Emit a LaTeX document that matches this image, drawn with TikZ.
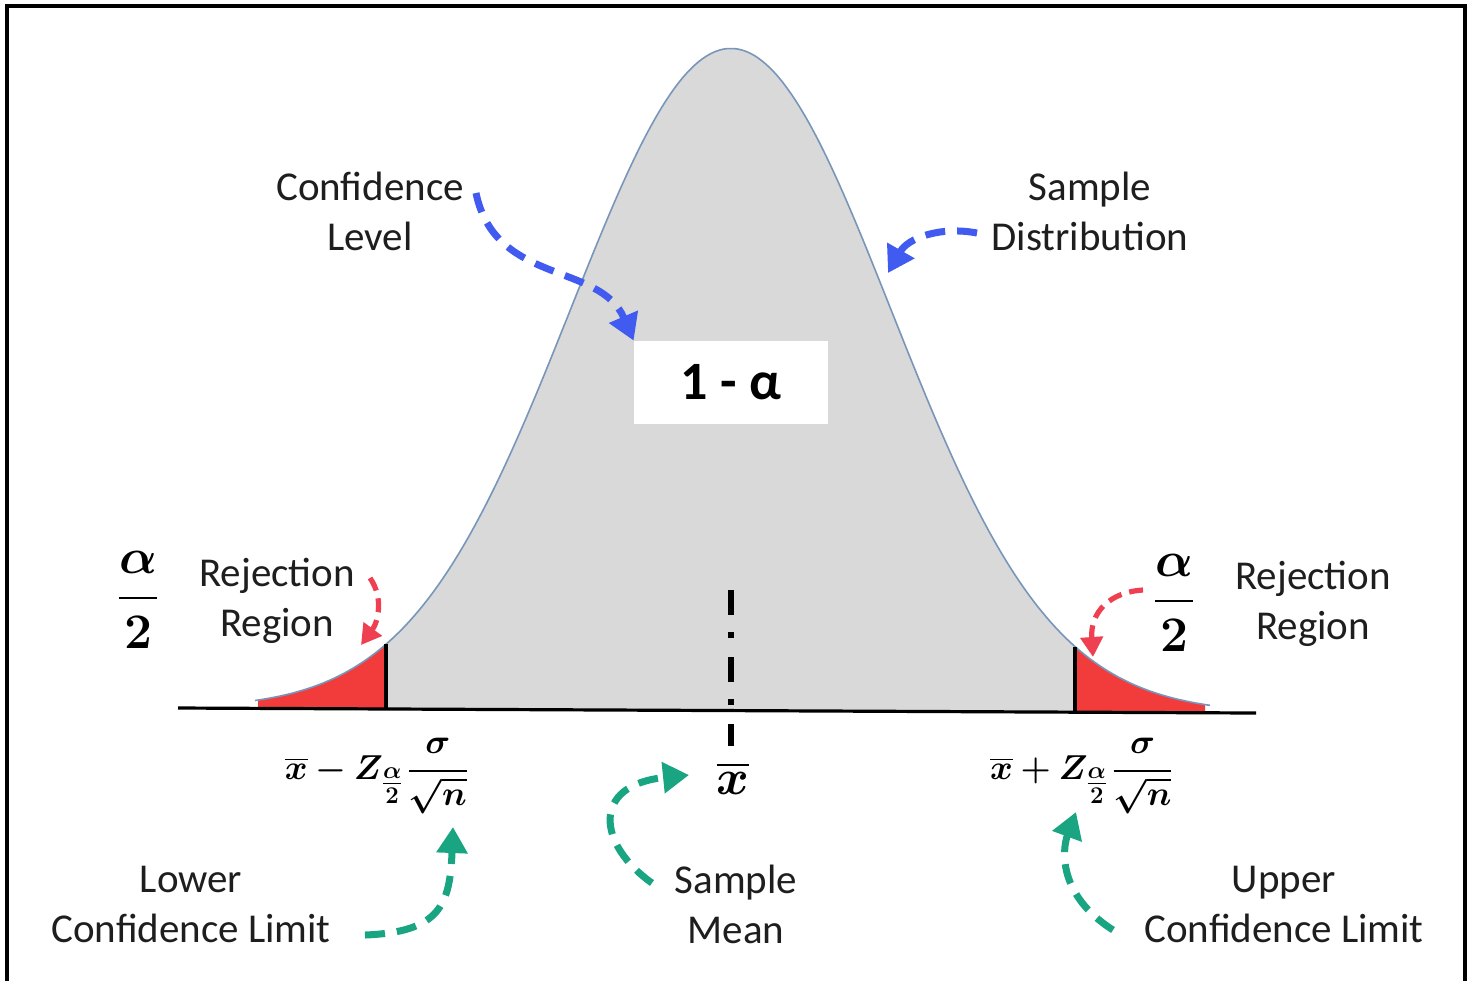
\documentclass[tikz,border=0pt]{standalone}
\usepackage{amsmath,bm}
\usepackage[no-math]{fontspec}
\setmainfont{Carlito}
\usetikzlibrary{arrows.meta}
\definecolor{bggray}{RGB}{217,217,217}
\definecolor{curveblue}{RGB}{120,150,185}
\definecolor{tailred}{RGB}{242,60,60}
\definecolor{arrred}{RGB}{238,64,80}
\definecolor{arrblue}{RGB}{65,90,240}
\definecolor{arrteal}{RGB}{25,165,130}
\definecolor{txt}{RGB}{30,30,30}
\newcommand{\halfa}{{\textstyle\frac{\bm{\alpha}}{\bm{2}}}}
\newcommand{\limf}[1]{\overline{\bm{x}}\mskip4mu{\bm{#1}}\mskip4mu\bm{Z}_{\halfa}\mskip1mu\bm{\dfrac{\sigma}{\sqrt{n}}}}
\begin{document}
\begin{tikzpicture}[x=0.5pt,y=-0.5pt,
  declare function={yb(\x)=708+5*(\x-178)/1078; g(\x)=yb(\x)-662*exp(-0.5*((\x-731)/160)^2);},
  lbl/.style={inner sep=0pt, align=center, text=txt, font=\fontsize{20.5}{25}\selectfont},
  mth/.style={inner sep=0pt, text=black, font=\fontsize{18.5}{22}\selectfont},
  bluearr/.style={draw=arrblue, line width=3.5pt, dash pattern=on 10pt off 6pt, -{Triangle[length=13pt,width=15pt]}},
  tealarr/.style={draw=arrteal, line width=3.5pt, dash pattern=on 10pt off 6pt, -{Triangle[length=13pt,width=15pt]}},
  redarr/.style={draw=arrred, line width=2.6pt, dash pattern=on 7pt off 4pt, -{Triangle[length=10pt,width=11pt]}}]
\useasboundingbox (0,0) rectangle (1470,981);
\fill[white] (0,0) rectangle (1470,981);
% frame
\draw[line width=2pt] (6.5,981) -- (6.5,5.5) -- (1465,5.5) -- (1465,981);
% gray central area
\fill[bggray] plot[domain=386:1075,samples=160] (\x,{g(\x)}) -- (1075,{yb(1075)}) -- (386,{yb(386)}) -- cycle;
% red tails
\fill[tailred] (258,{yb(258)}) -- plot[domain=258:386,samples=60] (\x,{g(\x)}) -- (386,{yb(386)}) -- cycle;
\fill[tailred] (1075,{yb(1075)}) -- plot[domain=1075:1205,samples=60] (\x,{g(\x)}) -- (1205,{yb(1205)}) -- cycle;
% curve outline
\draw[curveblue, line width=0.8pt] plot[domain=255:1210,samples=240] (\x,{g(\x)});
% critical value lines
\draw[line width=2pt] (386,{yb(386)}) -- (386,{g(386)});
\draw[line width=2pt] (1075,{yb(1075)}) -- (1075,{g(1075)});
% axis
\draw[line width=1.6pt] (178,708) -- (1256,713);
% mean line
\draw[line width=2.6pt, dash pattern=on 12.5pt off 8.5pt on 3pt off 9.5pt] (731,590) -- (731,746);
% box
\node[fill=white, minimum width=97pt, minimum height=41.5pt, inner sep=0pt, font=\fontsize{27}{30}\selectfont\bfseries] (conf) at (731,382.5) {1 - α};
% labels
\node[lbl] (cl) at (370,211) {Confidence\\Level};
\node[lbl] (sd) at (1090,211) {Sample\\Distribution};
\node[lbl] (rrl) at (277,601) {Rejection\\Region};
\node[lbl] (rrr) at (1313,604) {Rejection\\Region};
\node[lbl] (sm) at (736,904) {Sample\\Mean};
\node[lbl] (lcl) at (191,904) {Lower\\Confidence Limit};
\node[lbl] (ucl) at (1284,904) {Upper\\Confidence Limit};
% math
\node[mth, font=\fontsize{24}{28}\selectfont] (al) at (138,600) {$\bm{\dfrac{\alpha}{2}}$};
\node[mth, font=\fontsize{24}{28}\selectfont] (ar) at (1174,603) {$\bm{\dfrac{\alpha}{2}}$};
\node[mth] (lo) at (377,776) {$\limf{-}$};
\node[mth] (up) at (1082,776) {$\limf{+}$};
\node[mth, font=\fontsize{25}{28}\selectfont] (xb) at (733,778) {$\overline{\bm{x}}$};
% connector end points
\coordinate (clstart) at (476,193);
\coordinate (sdstart) at (977,233);
\coordinate (sdend) at (888,273);
\coordinate (rlstart) at (370,578);
\coordinate (rlend) at (361,645);
\coordinate (rrstart) at (1143,590);
\coordinate (rrend) at (1093,657);
\coordinate (lclstart) at (365,935);
\coordinate (loend) at (453,827);
\coordinate (smstart) at (652,883);
\coordinate (smend) at (689,775);
\coordinate (uclstart) at (1113,930);
\coordinate (upend) at (1076,812);
% arrows
\draw[bluearr] (clstart) .. controls (495,285) and (600,262) .. (conf.north west);
\draw[bluearr] (sdstart) .. controls (940,226) and (908,238) .. (sdend);
\draw[redarr] (rlstart) .. controls (384,598) and (378,622) .. (rlend);
\draw[redarr] (rrstart) .. controls (1110,592) and (1090,612) .. (rrend);
\draw[tealarr] (lclstart) .. controls (440,932) and (450,905) .. (loend);
\draw[tealarr] (smstart) .. controls (598,845) and (590,785) .. (smend);
\draw[tealarr] (uclstart) .. controls (1058,895) and (1062,850) .. (upend);
\end{tikzpicture}
\end{document}
